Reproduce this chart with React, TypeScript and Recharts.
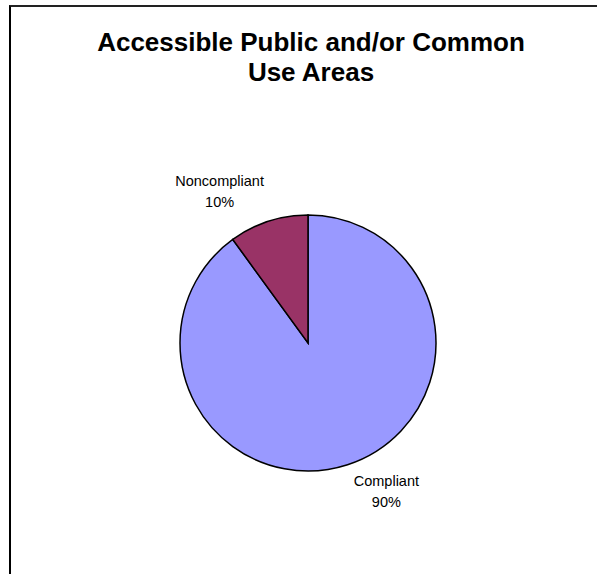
import { PieChart, Pie, Cell } from "recharts"

const categories = ["Compliant", "Noncompliant"]
const values = [90, 10]
const percentLabels = ["90%", "10%"]
const colors = ["#9999FF", "#993366"]

const titleLines = ["Accessible Public and/or Common", "Use Areas"]

const data = categories.map((name, i) => ({ name, value: values[i], pct: percentLabels[i] }))

const RADIAN = Math.PI / 180

const renderLabel = (props: any) => {
  const { cx, cy, midAngle, index } = props
  // Excel pushes its labels a bit counter-clockwise from the slice middle
  const angle = (midAngle + 11) * RADIAN
  const r = 172
  const x = cx + r * Math.cos(angle) - 5
  const y = cy - r * Math.sin(angle)
  return (
    <text
      x={x}
      y={y}
      textAnchor="middle"
      fontFamily="'Liberation Sans', Arial, sans-serif"
      fontSize={14.5}
      fill="#000"
    >
      <tspan x={x} y={y - 7}>
        {data[index].name}
      </tspan>
      <tspan x={x} y={y + 14}>
        {data[index].pct}
      </tspan>
    </text>
  )
}

const App = () => {
  return (
    <div style={{ position: "absolute", left: 0, top: 0, width: 597, height: 574, overflow: "hidden", background: "#fff" }}>
      <div
        style={{
          position: "absolute",
          left: 9,
          top: 5,
          width: 620,
          height: 600,
          borderLeft: "2px solid #000",
          borderTop: "2px solid #222",
        }}
      />
      <div
        style={{
          position: "absolute",
          left: 0,
          top: 27,
          width: 622,
          textAlign: "center",
          fontFamily: "'Liberation Sans', Arial, sans-serif",
          fontWeight: "bold",
          fontSize: 26,
          lineHeight: "30px",
          color: "#000",
        }}
      >
        {titleLines.map((t) => (
          <div key={t}>{t}</div>
        ))}
      </div>
      <div style={{ position: "absolute", left: 0, top: 0 }}>
        <PieChart width={597} height={574}>
          <Pie
            data={data}
            dataKey="value"
            nameKey="name"
            cx={303}
            cy={338}
            outerRadius={128}
            startAngle={90}
            endAngle={-270}
            stroke="#000"
            strokeWidth={1.5}
            label={renderLabel}
            labelLine={false}
            isAnimationActive={false}
          >
            {data.map((d, i) => (
              <Cell key={d.name} fill={colors[i]} />
            ))}
          </Pie>
        </PieChart>
      </div>
    </div>
  )
}

export default App
